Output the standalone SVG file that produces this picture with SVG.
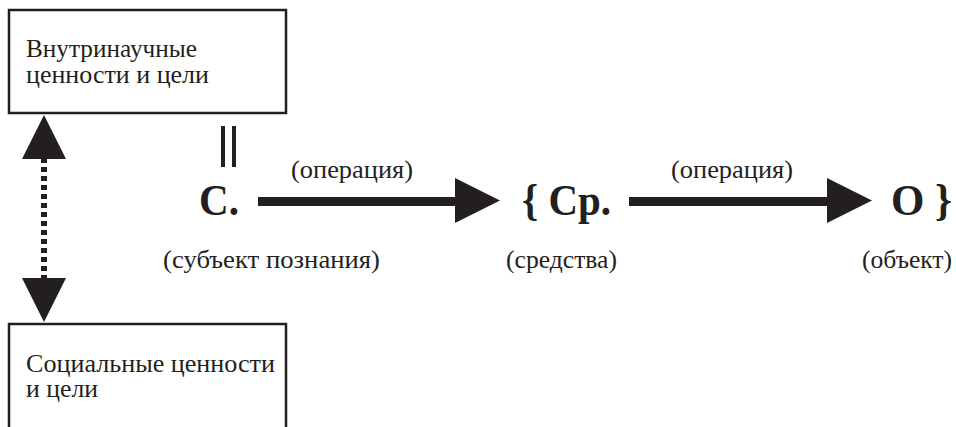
<svg xmlns="http://www.w3.org/2000/svg" width="956" height="427" viewBox="0 0 956 427">
<defs>
<style>
.box{fill:#fff;stroke:#231f20;stroke-width:2.5}
.ln{stroke:#231f20;stroke-width:9;fill:none}
.hd{fill:#231f20}
</style>
</defs>
<rect width="956" height="427" fill="#fff"/>
<g id="box-inner">
<rect class="box" x="9" y="10" width="277" height="103"/>
<text x="26" y="57" font-family="Liberation Serif" font-size="26" fill="#231f20" textLength="171" lengthAdjust="spacingAndGlyphs">Внутринаучные</text>
<text x="26" y="83" font-family="Liberation Serif" font-size="26" fill="#231f20" textLength="183" lengthAdjust="spacingAndGlyphs">ценности и цели</text>
</g>
<g id="box-social">
<path class="box" d="M9,430 V324 H286 V430"/>
<text x="26" y="372" font-family="Liberation Serif" font-size="26" fill="#231f20" textLength="249" lengthAdjust="spacingAndGlyphs">Социальные ценности</text>
<text x="26" y="397" font-family="Liberation Serif" font-size="26" fill="#231f20" textLength="72" lengthAdjust="spacingAndGlyphs">и цели</text>
</g>
<g id="node-s">
<text x="199" y="215" font-family="Liberation Serif" font-size="45" font-weight="bold" fill="#231f20" textLength="40" lengthAdjust="spacingAndGlyphs">С.</text>
<text x="163" y="268" font-family="Liberation Serif" font-size="26" fill="#231f20" textLength="217" lengthAdjust="spacingAndGlyphs">(субъект познания)</text>
</g>
<g id="node-sr">
<text x="522" y="215" font-family="Liberation Serif" font-size="45" font-weight="bold" fill="#231f20" textLength="89" lengthAdjust="spacingAndGlyphs">{ Ср.</text>
<text x="506" y="268" font-family="Liberation Serif" font-size="26" fill="#231f20" textLength="111" lengthAdjust="spacingAndGlyphs">(средства)</text>
</g>
<g id="node-o">
<text x="891" y="215" font-family="Liberation Serif" font-size="45" font-weight="bold" fill="#231f20" textLength="61" lengthAdjust="spacingAndGlyphs">О }</text>
<text x="862" y="268" font-family="Liberation Serif" font-size="26" fill="#231f20" textLength="90" lengthAdjust="spacingAndGlyphs">(объект)</text>
</g>
<g id="connectors">
<line x1="44" y1="158" x2="44" y2="280" stroke="#231f20" stroke-width="6" stroke-dasharray="5,4"/>
<polygon class="hd" points="44,115 66,159 22,159"/>
<polygon class="hd" points="44,322 66,278 22,278"/>
<rect class="hd" x="221" y="126" width="4" height="41"/>
<rect class="hd" x="232" y="126" width="4" height="41"/>
<line class="ln" x1="258" y1="201.5" x2="460" y2="201.5"/>
<polygon class="hd" points="455,178 500,200.5 455,223"/>
<text x="291" y="178" font-family="Liberation Serif" font-size="26" fill="#231f20" textLength="122" lengthAdjust="spacingAndGlyphs">(операция)</text>
<line class="ln" x1="629" y1="201.5" x2="832" y2="201.5"/>
<polygon class="hd" points="827,178 872,200.5 827,223"/>
<text x="671" y="178" font-family="Liberation Serif" font-size="26" fill="#231f20" textLength="122" lengthAdjust="spacingAndGlyphs">(операция)</text>
</g>
</svg>
